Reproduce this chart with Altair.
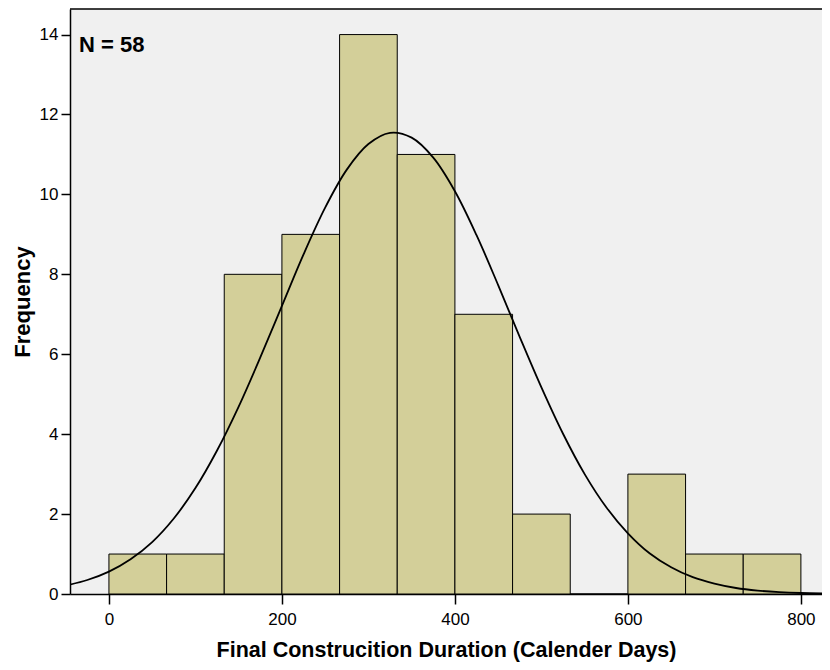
import altair as alt
import pandas as pd

# Histogram bins (calendar days) and frequencies
bin_start = [0, 66.67, 133.33, 200, 266.67, 333.33, 400, 466.67, 533.33, 600, 666.67, 733.33]
bin_end = [66.67, 133.33, 200, 266.67, 333.33, 400, 466.67, 533.33, 600, 666.67, 733.33, 800]
counts = [1, 1, 8, 9, 14, 11, 7, 2, 0, 3, 1, 1]

# Fitted normal curve
curve_x = [-50, -25, 0, 25, 50, 75, 100, 125, 150, 175, 200, 225, 250, 275, 300, 325,
           350, 375, 400, 425, 450, 475, 500, 525, 550, 575, 600, 625, 650, 675, 700,
           725, 750, 775, 800, 835]
curve_y = [0.21, 0.35, 0.56, 0.87, 1.30, 1.89, 2.65, 3.59, 4.69, 5.92, 7.21, 8.50, 9.67,
           10.62, 11.26, 11.54, 11.42, 10.92, 10.08, 8.98, 7.73, 6.43, 5.17, 4.01, 3.00,
           2.17, 1.52, 1.02, 0.67, 0.42, 0.26, 0.15, 0.085, 0.047, 0.025, 0.01]

x_ticks = [0, 200, 400, 600, 800]
y_ticks = [0, 2, 4, 6, 8, 10, 12, 14]

bars_df = pd.DataFrame({"start": bin_start, "end": bin_end, "count": counts})
curve_df = pd.DataFrame({"x": curve_x, "y": curve_y})

FONT = "Liberation Sans"
W, H = 752, 585
xscale = alt.Scale(domain=[-45, 824.4], nice=False, zero=False)
yscale = alt.Scale(domain=[0, 14.64], nice=False, zero=False)

xaxis = alt.Axis(values=x_ticks, grid=False, domain=True, domainColor="black", domainWidth=1.5,
                 tickColor="black", tickSize=10, tickWidth=1.5,
                 labelColor="black", labelFont=FONT, labelFontSize=17, labelPadding=7,
                 title="Final Construcition Duration (Calender Days)",
                 titleFont=FONT, titleFontSize=21.5, titleFontWeight="bold", titleColor="black",
                 titlePadding=12)
yaxis = alt.Axis(values=y_ticks, grid=False, domain=True, domainColor="black", domainWidth=1.5,
                 tickColor="black", tickSize=9, tickWidth=1.5,
                 labelColor="black", labelFont=FONT, labelFontSize=17, labelPadding=3,
                 title="Frequency", titleFont=FONT, titleFontSize=22,
                 titleFontWeight="bold", titleColor="black", titlePadding=5)

bars = alt.Chart(bars_df).mark_bar(fill="#d3cf99", stroke="black", strokeWidth=1).encode(
    x=alt.X("start:Q", scale=xscale, axis=xaxis),
    x2="end:Q",
    y=alt.Y("count:Q", scale=yscale, axis=yaxis),
    y2=alt.datum(0),
)

curve = alt.Chart(curve_df).mark_line(color="black", strokeWidth=1.8, interpolate="catmull-rom",
                                      clip=True).encode(
    x=alt.X("x:Q", scale=xscale),
    y=alt.Y("y:Q", scale=yscale),
)

top_frame = alt.Chart(pd.DataFrame({"k": [0]})).mark_rule(color="black", strokeWidth=1.5).encode(
    x=alt.value(0), x2=alt.value(W), y=alt.value(0)
)

label = alt.Chart(pd.DataFrame({"t": ["N = 58"]})).mark_text(
    font=FONT, fontSize=22, fontWeight="bold", color="black", align="left", baseline="middle"
).encode(x=alt.value(9), y=alt.value(36), text="t:N")

chart = alt.layer(bars, curve, top_frame, label).properties(
    width=W, height=H,
    autosize=alt.AutoSizeParams(type="none"),
    padding={"left": 62, "top": 1, "right": 0, "bottom": 68},
    background="white",
).configure_view(fill="#f0f0f0", stroke="transparent", strokeWidth=0)

chart.save("out.html", embed_options={"renderer": "svg", "actions": False})
